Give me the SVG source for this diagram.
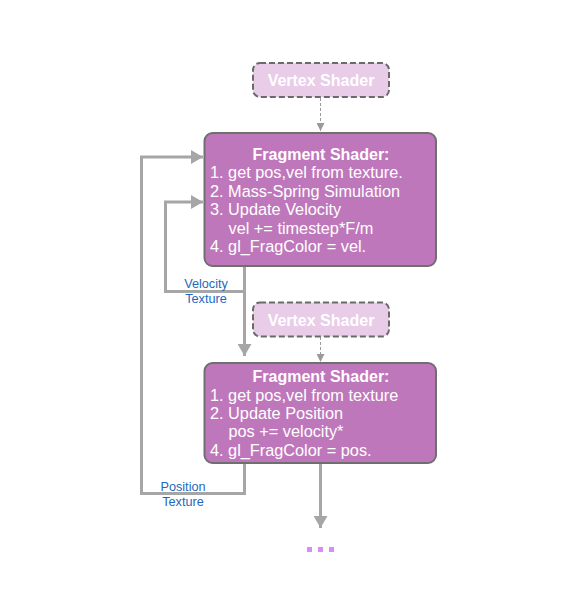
<svg xmlns="http://www.w3.org/2000/svg" width="576" height="591" viewBox="0 0 576 591">
<style>
.frag{fill:#bf77bc;stroke:#6f6f6f;stroke-width:2}
.vert{fill:#e8cce8;stroke:#6a6a6a;stroke-width:2;stroke-dasharray:6 3}
.vt{font-family:"Liberation Sans",Arial,sans-serif;font-size:16px;font-weight:bold;fill:#ffffff;text-anchor:middle}
.ft{font-family:"Liberation Sans",Arial,sans-serif;font-size:16.3px;fill:#ffffff}
.fh{font-family:"Liberation Sans",Arial,sans-serif;font-size:16px;font-weight:bold;fill:#ffffff;text-anchor:middle}
.lbl{font-family:"Liberation Sans",Arial,sans-serif;font-size:12.7px;fill:#1f67bd;text-anchor:middle}
.flow{fill:none;stroke:#a6a6a6;stroke-width:3}
.dash{fill:none;stroke:#9a9a9a;stroke-width:1;stroke-dasharray:3 2}
</style>
<defs>
<marker id="ah" markerWidth="12" markerHeight="14" refX="12" refY="7" orient="auto" markerUnits="userSpaceOnUse">
<path d="M0,0 L12,7 L0,14 Z" fill="#a6a6a6"/>
</marker>
<marker id="ahs" markerWidth="8" markerHeight="8" refX="8" refY="4" orient="auto" markerUnits="userSpaceOnUse">
<path d="M0,0 L8,4 L0,8 Z" fill="#9a9a9a"/>
</marker>
</defs>
<rect width="576" height="591" fill="#ffffff"/>
<g id="connectors">
<line class="dash" x1="320.5" y1="98" x2="320.5" y2="131" marker-end="url(#ahs)"/>
<line class="dash" x1="320.5" y1="337" x2="320.5" y2="362" marker-end="url(#ahs)"/>
<polyline class="flow" points="244.5,266 244.5,291.5 165.5,291.5 165.5,202 203,202" marker-end="url(#ah)"/>
<line class="flow" x1="244.5" y1="291.5" x2="244.5" y2="356" marker-end="url(#ah)"/>
<polyline class="flow" points="244.5,463 244.5,493.5 141.5,493.5 141.5,157 203,157" marker-end="url(#ah)"/>
<line class="flow" x1="320.5" y1="463" x2="320.5" y2="528" marker-end="url(#ah)"/>
<text class="lbl" x="206" y="288">Velocity</text>
<text class="lbl" x="206" y="302.5">Texture</text>
<text class="lbl" x="183" y="491">Position</text>
<text class="lbl" x="183" y="505.5">Texture</text>
</g>
<g id="vertex1">
<rect class="vert" x="253" y="63" width="136" height="34" rx="7"/>
<text class="vt" x="321" y="86">Vertex Shader</text>
</g>
<g id="fragment1">
<rect class="frag" x="204.5" y="133" width="231.5" height="133" rx="8"/>
<text class="fh" x="321" y="160">Fragment Shader:</text>
<text class="ft" x="210" y="178">1. get pos,vel from texture.</text>
<text class="ft" x="210" y="196.5">2. Mass-Spring Simulation</text>
<text class="ft" x="210" y="215">3. Update Velocity</text>
<text class="ft" x="228.5" y="233.5">vel += timestep*F/m</text>
<text class="ft" x="210" y="251.5">4. gl_FragColor = vel.</text>
</g>
<g id="vertex2">
<rect class="vert" x="253" y="302.5" width="136" height="34" rx="7"/>
<text class="vt" x="321" y="325.5">Vertex Shader</text>
</g>
<g id="fragment2">
<rect class="frag" x="204.5" y="363" width="231.5" height="100" rx="8"/>
<text class="fh" x="321" y="382">Fragment Shader:</text>
<text class="ft" x="210" y="400.5">1. get pos,vel from texture</text>
<text class="ft" x="210" y="419">2. Update Position</text>
<text class="ft" x="228.5" y="437">pos += velocity*</text>
<text class="ft" x="210" y="456">4. gl_FragColor = pos.</text>
</g>
<g id="ellipsis" fill="#d98cf5">
<rect x="307" y="547" width="5" height="5"/>
<rect x="318" y="547" width="5" height="5"/>
<rect x="329" y="547" width="5" height="5"/>
</g>
</svg>
